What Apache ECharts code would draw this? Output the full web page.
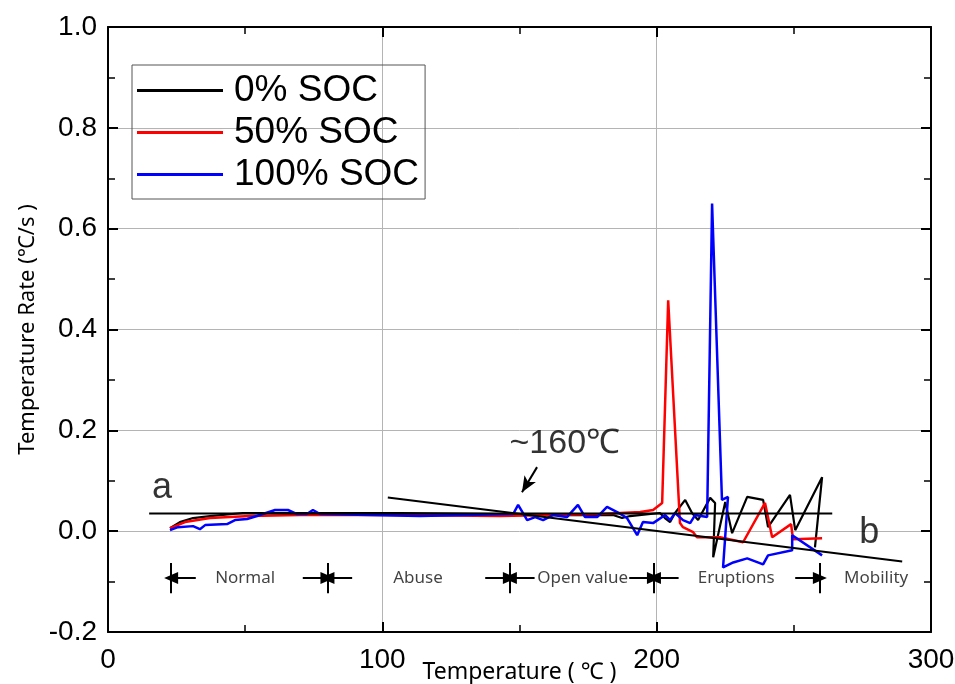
<!DOCTYPE html>
<html>
<head>
<meta charset="utf-8">
<script src="https://cdn.jsdelivr.net/npm/echarts@6/dist/echarts.min.js"></script>
<style>
html, body { margin: 0; padding: 0; background: #fff; }
#chart { width: 955px; height: 684px; }
</style>
</head>
<body>
<div id="chart"></div>
<script>
// measured curves, [temperature, rate]
var soc0 = [
  [22.6, 0.006], [26.2, 0.018], [31.0, 0.026], [37.2, 0.030], [49.2, 0.036],
  [70, 0.036], [106.5, 0.036], [143, 0.034], [164.8, 0.032], [184.1, 0.032],
  [187.4, 0.026], [190.3, 0.030], [201.2, 0.036], [203, 0.026], [204.9, 0.018],
  [206.7, 0.036], [210.4, 0.062], [212.9, 0.036], [215.1, 0.022], [219.5, 0.066],
  [221.3, 0.056], [220.6, -0.052], [225, 0.058], [227.5, -0.004], [233, 0.068],
  [238.8, 0.062], [240.6, 0.008], [248.6, 0.072], [250.5, 0.002], [260.3, 0.107],
  [257.7, -0.032]
];
var soc50 = [
  [22.6, 0.006], [28.1, 0.018], [37.2, 0.026], [51.8, 0.030], [70, 0.032],
  [106.5, 0.032], [143, 0.030], [179.4, 0.034], [194, 0.038], [198.7, 0.042],
  [202, 0.056], [204.2, 0.458], [208.5, 0.016], [209.6, 0.008], [213.3, -0.002],
  [214.7, -0.012], [223.1, -0.012], [231.5, -0.022], [239.5, 0.056], [242.1, -0.012],
  [249, 0.014], [249.7, -0.016], [260.3, -0.014]
];
var soc100 = [
  [22.6, 0.002], [25.5, 0.008], [31, 0.010], [33.5, 0.004], [35.4, 0.012],
  [43.4, 0.014], [46.3, 0.022], [50.7, 0.024], [54.3, 0.030], [60.9, 0.042],
  [65.6, 0.042], [68.9, 0.034], [72.5, 0.034], [74.7, 0.042], [77.3, 0.034],
  [113.7, 0.030], [147.7, 0.034], [149.5, 0.052], [152.8, 0.022], [155.7, 0.028],
  [158.6, 0.022], [162.2, 0.032], [167.3, 0.028], [171.3, 0.052], [173.9, 0.028],
  [178.3, 0.028], [181.9, 0.048], [185.6, 0.038], [189.2, 0.026], [192.9, -0.008],
  [195, 0.018], [198.7, 0.016], [203.1, 0.032], [204.9, 0.022], [206.7, 0.036],
  [209.6, 0.022], [212.2, 0.016], [214, 0.032], [218.4, 0.028], [220.2, 0.650],
  [223.8, 0.062], [226, 0.068], [224.2, -0.072], [227.9, -0.062], [233, -0.054],
  [238.8, -0.066], [240.6, -0.048], [249.4, -0.038], [249.4, -0.008], [260.3, -0.048]
];
// fitted lines a and b
var lineA = [[15, 0.035], [264, 0.035]];
var lineB = [[102, 0.067], [289.5, -0.06]];

var seriesNames = ['0% SOC', '50% SOC', '100% SOC'];

// stage markers along the bottom
var phaseBounds = [23, 80, 146.5, 199, 259.5];
var phaseNames = ['Normal', 'Abuse', 'Open value', 'Eruptions', 'Mobility'];
var phaseLabelX = [50, 113, 173, 229, 280];
var phaseY = -0.093;

var letterText = ['a', 'b'];
var letterPos = [[19.7, 0.085], [277.5, -0.004]];
var onsetText = '~160℃';
var onsetPos = [166.5, 0.173];
var onsetArrow = [[156.4, 0.127], [150.9, 0.077]];

var myChart = echarts.init(document.getElementById('chart'));

var tickFont = 'Liberation Sans Narrow, Arial Narrow, sans-serif';

function frameAxis(pos, isX, main) {
  var ax = {
    type: 'value',
    position: pos,
    min: isX ? 0 : -0.2,
    max: isX ? 300 : 1.0,
    interval: isX ? 100 : 0.2,
    axisLine: { show: true, onZero: false, lineStyle: { color: '#000', width: 2 } },
    axisTick: { show: true, inside: true, length: 10, lineStyle: { color: '#000', width: 2 } },
    minorTick: { show: true, splitNumber: 2, length: 7, lineStyle: { color: '#000', width: 1.5 } },
    splitLine: { show: main, lineStyle: { color: '#b4b4b4', width: 1 } },
    axisLabel: { show: main }
  };
  if (main) {
    ax.axisLabel = {
      show: true,
      fontFamily: tickFont,
      fontSize: 28,
      color: '#000',
      margin: isX ? 14 : 11,
      formatter: function (v) { return isX ? String(v) : v.toFixed(1); }
    };
  }
  return ax;
}

var xBottom = frameAxis('bottom', true, true);
xBottom.name = 'Temperature ( ℃ )';
xBottom.nameLocation = 'middle';
xBottom.nameGap = 29;
xBottom.nameMoveOverlap = false;
xBottom.nameTextStyle = { fontFamily: 'Noto Sans', fontSize: 23, color: '#000' };

var yLeft = frameAxis('left', false, true);
yLeft.name = 'Temperature Rate (℃/s )';
yLeft.nameLocation = 'middle';
yLeft.nameGap = 69;
yLeft.nameMoveOverlap = false;
yLeft.nameTextStyle = { fontFamily: 'Noto Sans', fontSize: 22, color: '#000' };

var markSegs = [];
phaseBounds.forEach(function (b, i) {
  markSegs.push([{ coord: [b, -0.063] }, { coord: [b, -0.123] }]);
  if (i > 0) {
    markSegs.push([{ coord: [b - 9, phaseY], symbol: 'none' }, { coord: [b, phaseY], symbol: 'triangle', symbolSize: [12, 14], symbolRotate: -90 }]);
  }
  if (i < phaseBounds.length - 1) {
    markSegs.push([{ coord: [b + 9, phaseY], symbol: 'none' }, { coord: [b, phaseY], symbol: 'triangle', symbolSize: [12, 14], symbolRotate: 90 }]);
  }
});
markSegs.push([{ coord: onsetArrow[0], symbol: 'none' }, { coord: onsetArrow[1], symbol: 'arrow', symbolSize: [10, 16] }]);

var option = {
  animation: false,
  backgroundColor: '#fff',
  grid: { left: 108, right: 24, top: 27, bottom: 52, outerBoundsMode: 'none', containLabel: false },
  legend: {
    data: seriesNames,
    orient: 'vertical',
    left: 132,
    top: 65,
    padding: [7, 6, 6, 5],
    itemGap: 5,
    itemWidth: 86,
    itemHeight: 3,
    icon: 'rect',
    borderColor: '#555',
    borderWidth: 1,
    textStyle: { fontFamily: 'Liberation Sans, Arial, sans-serif', fontSize: 37, color: '#000', lineHeight: 36, padding: [0, 0, 0, 6] }
  },
  xAxis: [xBottom, frameAxis('top', true, false)],
  yAxis: [yLeft, frameAxis('right', false, false)],
  series: [
    { name: seriesNames[0], type: 'line', data: soc0, symbol: 'none', lineStyle: { color: '#000', width: 2.2 }, itemStyle: { color: '#000' } },
    { name: seriesNames[1], type: 'line', data: soc50, symbol: 'none', lineStyle: { color: '#ff0000', width: 2.5 }, itemStyle: { color: '#ff0000' } },
    { name: seriesNames[2], type: 'line', data: soc100, symbol: 'none', lineStyle: { color: '#0000ff', width: 2.5 }, itemStyle: { color: '#0000ff' } },
    { name: 'a', type: 'line', data: lineA, symbol: 'none', lineStyle: { color: '#000', width: 2 } },
    {
      name: 'b', type: 'line', data: lineB, symbol: 'none', lineStyle: { color: '#000', width: 2 },
      markLine: {
        silent: true,
        symbol: ['none', 'none'],
        label: { show: false },
        lineStyle: { color: '#000', width: 2, type: 'solid' },
        data: markSegs
      }
    },
    {
      type: 'scatter', symbolSize: 0, silent: true,
      data: letterPos.map(function (p, i) { return [p[0], p[1], letterText[i]]; }),
      label: { show: true, position: 'inside', formatter: function (p) { return p.value[2]; }, fontFamily: 'Liberation Sans, Arial, sans-serif', fontSize: 36, color: '#000' }
    },
    {
      type: 'scatter', symbolSize: 0, silent: true,
      data: [[onsetPos[0], onsetPos[1], onsetText]],
      label: { show: true, position: 'inside', formatter: function (p) { return p.value[2]; }, fontFamily: 'Liberation Sans, Arial, sans-serif', fontSize: 34, color: '#000' }
    },
    {
      type: 'scatter', symbolSize: 0, silent: true,
      data: phaseLabelX.map(function (x, i) { return [x, phaseY, phaseNames[i]]; }),
      label: { show: true, position: 'inside', formatter: function (p) { return p.value[2]; }, fontFamily: 'Noto Sans', fontSize: 17, color: '#111' }
    }
  ]
};
myChart.setOption(option);
</script>
</body>
</html>
